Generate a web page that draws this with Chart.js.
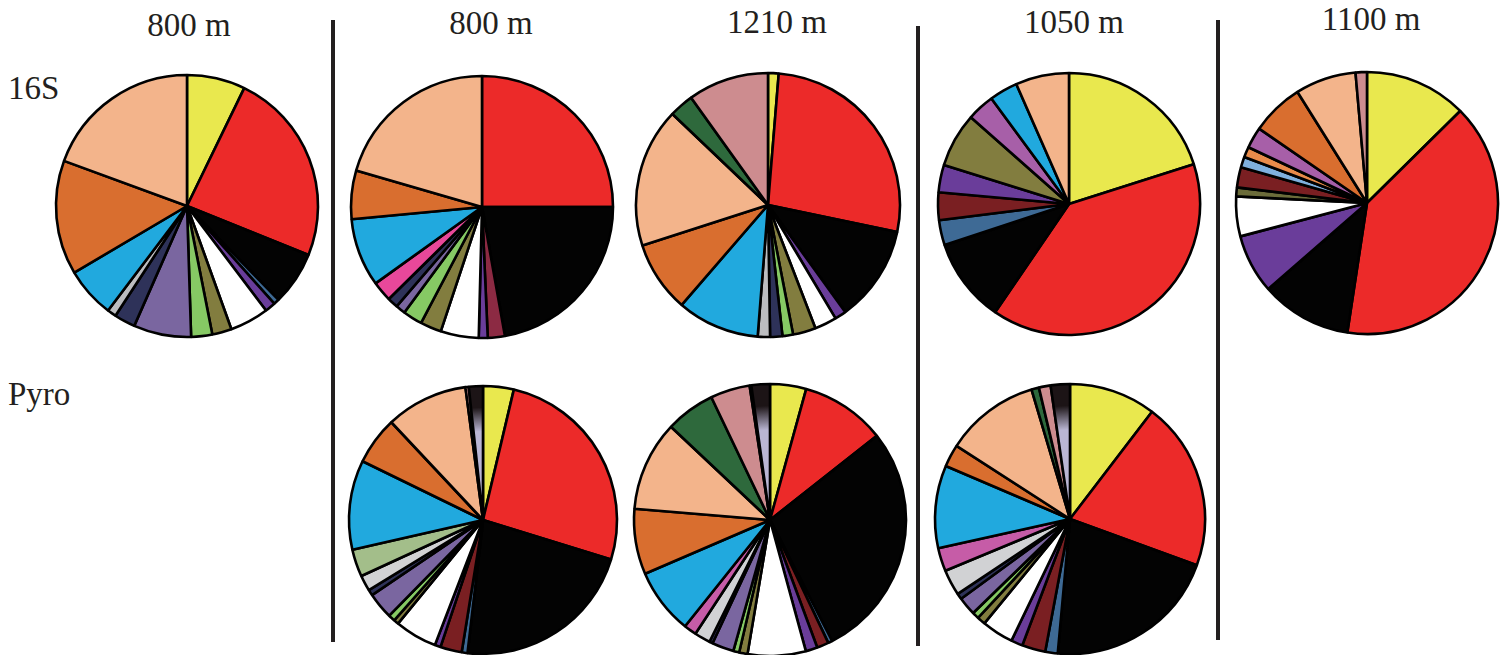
<!DOCTYPE html>
<html>
<head>
<meta charset="utf-8">
<script src="https://cdn.jsdelivr.net/npm/chart.js@4.4.1/dist/chart.umd.min.js"></script>
<style>
  html, body { margin: 0; padding: 0; background: #fff; overflow: hidden; width: 1507px; height: 655px; }
  #stage { position: relative; width: 1507px; height: 655px; }
  .lbl { position: absolute; font-family: "Liberation Serif", "Times New Roman", serif; font-size: 33px;
         line-height: 33px; color: #231f20; white-space: nowrap; }
  .rule { position: absolute; width: 4px; background: #231f20; }
  canvas { position: absolute; }
</style>
</head>
<body>
<div id="stage"></div>
<script>
// Column headings (sampling depth) and row headings (method)
const depthTitles = ['800 m', '800 m', '1210 m', '1050 m', '1100 m'];
const rowTitles = ['16S', 'Pyro'];

// Taxon groups, listed clockwise from 12 o'clock, with their shares (%)
const s16_800a_groups = ['yellow','red','black','steel','purple','white','olive','lgreen','lavender','navy','gray','cyan','orange','peach'];
const s16_800a_values = [7.2, 23.9, 6.6, 0.7, 1.3, 4.8, 2.4, 2.6, 7.1, 2.6, 1.1, 6.2, 14.1, 19.4];

const s16_800b_groups = ['red','black','maroon','purple','white','olive','lgreen','lavender','navy','pink','cyan','orange','peach'];
const s16_800b_values = [25.0, 22.2, 2.1, 1.1, 4.7, 2.6, 2.4, 1.2, 1.3, 2.5, 8.4, 6.0, 20.5];

const s16_1210_groups = ['yellow','red','black','purple','white','olive','lgreen','navy','gray','cyan','orange','peach','dkgreen','rose'];
const s16_1210_values = [1.3, 27.0, 11.8, 1.4, 2.7, 2.8, 1.3, 1.5, 1.5, 10.1, 8.7, 17.1, 3.0, 9.9];

const s16_1050_groups = ['yellow','red','black','steel','dkred','purple','olive','magenta','cyan','peach'];
const s16_1050_values = [20.1, 39.5, 10.4, 3.1, 3.4, 3.4, 6.7, 3.4, 3.5, 6.6];

const s16_1100_groups = ['yellow','red','black','purple','white','dkolive','dkred','ltblue','ltorange','magenta','orange','peach','rose'];
const s16_1100_values = [12.6, 39.8, 11.2, 7.3, 4.9, 1.1, 2.5, 1.3, 1.3, 2.6, 6.5, 7.5, 1.4];

const pyro_800_groups = ['yellow','red','black','steel','dkred','purple','white','olive','lgreen','lavender','navy','ltgray','sage','cyan','orange','peach','rose','mixed'];
const pyro_800_values = [3.7, 26.1, 22.1, 0.7, 2.6, 0.7, 5.1, 0.6, 0.8, 3.2, 0.7, 1.9, 3.3, 10.8, 5.8, 9.9, 0.4, 1.7];

const pyro_1210_groups = ['yellow','red','black','steel','dkred','purple','white','olive','lgreen','lavender','navy','ltgray','pinkmag','cyan','orange','peach','dkgreen','rose','tan','mixed'];
const pyro_1210_values = [4.3, 10.1, 28.1, 0.5, 1.4, 1.4, 6.9, 1.0, 0.7, 2.6, 0.4, 1.9, 1.5, 7.8, 7.8, 10.7, 5.9, 4.7, 0.2, 2.2];

const pyro_1050_groups = ['yellow','red','black','steel','dkred','purple','white','olive','lgreen','lavender','navy','ltgray','pinkmag','cyan','orange','peach','dkgreen','rose','mixed'];
const pyro_1050_values = [10.4, 20.2, 20.9, 1.5, 2.8, 1.4, 3.8, 1.0, 0.8, 2.2, 0.7, 3.1, 2.8, 9.9, 2.7, 11.3, 0.9, 1.4, 2.3];

// Fill colour of every taxon group
const palette = {
  yellow: '#e9e84e', red: '#ec2a29', black: '#030303', steel: '#3e6a95', purple: '#6a3d9a',
  white: '#ffffff', olive: '#827d3f', lgreen: '#86c964', lavender: '#7a66a0', navy: '#2e3259',
  gray: '#bcbdc0', cyan: '#21a9de', orange: '#d96e2f', peach: '#f3b48b', pink: '#e8489a',
  maroon: '#8c2a43', rose: '#cd8c8f', dkgreen: '#2e693c', dkred: '#7a1f22', magenta: '#a75fa8',
  ltblue: '#7fb0de', ltorange: '#e88b4a', dkolive: '#6b6c3a', sage: '#a3be8a', ltgray: '#d1d2d4',
  pinkmag: '#c65ca7', tan: '#c8913a', mixed: '#b9b5d3'
};

// Where each pie sits on the page
const layout = [
  { groups: s16_800a_groups, values: s16_800a_values, cx: 187, cy: 206, r: 131 },
  { groups: s16_800b_groups, values: s16_800b_values, cx: 482, cy: 207, r: 131 },
  { groups: s16_1210_groups, values: s16_1210_values, cx: 768, cy: 205, r: 132 },
  { groups: s16_1050_groups, values: s16_1050_values, cx: 1069, cy: 204, r: 131 },
  { groups: s16_1100_groups, values: s16_1100_values, cx: 1367, cy: 203, r: 131 },
  { groups: pyro_800_groups, values: pyro_800_values, cx: 483, cy: 520, r: 134 },
  { groups: pyro_1210_groups, values: pyro_1210_values, cx: 770, cy: 520, r: 136 },
  { groups: pyro_1050_groups, values: pyro_1050_values, cx: 1070, cy: 519, r: 135 }
];

const stage = document.getElementById('stage');

function addText(txt, x, baseline, centered) {
  const d = document.createElement('div');
  d.className = 'lbl';
  d.textContent = txt;
  d.style.top = (baseline - 27.6) + 'px';
  if (centered) { d.style.left = x + 'px'; d.style.transform = 'translateX(-50%)'; }
  else d.style.left = x + 'px';
  stage.appendChild(d);
}

function addRule(x, top, bottom) {
  const d = document.createElement('div');
  d.className = 'rule';
  d.style.left = (x - 2) + 'px';
  d.style.top = top + 'px';
  d.style.height = (bottom - top) + 'px';
  stage.appendChild(d);
}

// headings
const titleX = [189, 491, 777, 1074, 1371];
const titleBase = [36.5, 35, 33.5, 33.5, 31];
depthTitles.forEach((t, i) => addText(t, titleX[i], titleBase[i], true));
addText(rowTitles[0], 8, 100, false);
addText(rowTitles[1], 8, 406, false);

// column separators
addRule(333, 20, 642);
addRule(918, 26, 646);
addRule(1218, 20, 640);

// the mixed group fades from black at the rim to pale lavender inside
function fillFor(ctx, groups, r) {
  const key = groups[ctx.dataIndex];
  if (key !== 'mixed') return palette[key];
  const area = ctx.chart.chartArea;
  if (!area) return palette.mixed;
  const cx = (area.left + area.right) / 2, cy = (area.top + area.bottom) / 2;
  const g = ctx.chart.ctx.createRadialGradient(cx, cy, 0, cx, cy, r);
  g.addColorStop(0, '#bab6d4');
  g.addColorStop(0.66, '#bab6d4');
  g.addColorStop(0.84, '#1c1416');
  g.addColorStop(1, '#1c1416');
  return g;
}

layout.forEach(p => {
  const size = 2 * (p.r + 4);
  const cv = document.createElement('canvas');
  cv.width = size; cv.height = size;
  cv.style.width = size + 'px'; cv.style.height = size + 'px';
  cv.style.left = (p.cx - size / 2) + 'px';
  cv.style.top = (p.cy - size / 2) + 'px';
  stage.appendChild(cv);
  new Chart(cv, {
    type: 'pie',
    data: {
      labels: p.groups,
      datasets: [{
        data: p.values,
        backgroundColor: ctx => fillFor(ctx, p.groups, p.r),
        borderColor: '#000',
        borderWidth: 2.6,
        hoverOffset: 0,
        offset: 0,
        radius: p.r
      }]
    },
    options: {
      responsive: false,
      animation: false,
      events: [],
      radius: p.r,
      layout: { padding: 0 },
      plugins: { legend: { display: false }, tooltip: { enabled: false }, title: { display: false } }
    }
  });
});
</script>
</body>
</html>
